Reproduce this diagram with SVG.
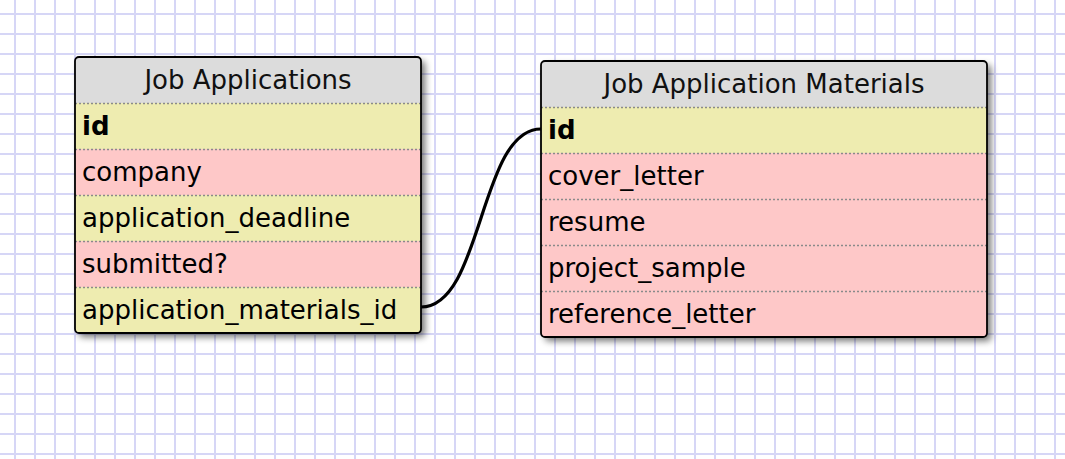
<svg xmlns="http://www.w3.org/2000/svg" width="1065" height="459" viewBox="0 0 1065 459">
<style>
.hdr{fill:#dcdcdc}
.key{fill:#eeecb0}
.txt{fill:#fec8c8}
.sep{stroke:#8a8a8a;stroke-width:1.6;stroke-dasharray:2,2}
.border{fill:none;stroke:#000;stroke-width:1.8}
.title{font-family:"DejaVu Sans",Verdana,sans-serif;font-size:26px;fill:#111;text-anchor:middle}
.field{font-family:"DejaVu Sans",Verdana,sans-serif;font-size:26px;fill:#000}
.pk{font-weight:bold}
.shadow{fill:#000;opacity:0.55;filter:url(#blur)}
.link{fill:none;stroke:#000;stroke-width:3.2}
</style>
<defs>
<pattern id="grid" x="5" y="4" width="20" height="20" patternUnits="userSpaceOnUse">
<path d="M10,0 V20 M0,10 H20" stroke="#d6d6f6" stroke-width="2" fill="none"/>
</pattern>
<filter id="blur" x="-10%" y="-10%" width="130%" height="130%"><feGaussianBlur stdDeviation="3.5"/></filter>
<clipPath id="c1"><rect x="75" y="57" width="346" height="276" rx="4"/></clipPath>
<clipPath id="c2"><rect x="541" y="61" width="446" height="276" rx="4"/></clipPath>
</defs>
<rect width="1065" height="459" fill="#fff"/>
<rect width="1065" height="459" fill="url(#grid)"/>

<g id="job_applications">
<rect class="shadow" x="79" y="61" width="346" height="276" rx="4"/>
<g clip-path="url(#c1)">
<rect class="hdr" x="75" y="57" width="346" height="46"/>
<rect class="key" x="75" y="103" width="346" height="46"/>
<rect class="txt" x="75" y="149" width="346" height="46"/>
<rect class="key" x="75" y="195" width="346" height="46"/>
<rect class="txt" x="75" y="241" width="346" height="46"/>
<rect class="key" x="75" y="287" width="346" height="46"/>
</g>
<path class="sep" d="M75,103.5 H421 M75,149.5 H421 M75,195.5 H421 M75,241.5 H421 M75,287.5 H421"/>
<rect class="border" x="75" y="57" width="346" height="276" rx="4"/>
<text class="title" x="248" y="89">Job Applications</text>
<text class="field pk" x="82" y="135">id</text>
<text class="field" x="82" y="181">company</text>
<text class="field" x="82" y="227">application_deadline</text>
<text class="field" x="82" y="273">submitted?</text>
<text class="field" x="82" y="319">application_materials_id</text>
</g>

<g id="job_application_materials">
<rect class="shadow" x="545" y="65" width="446" height="276" rx="4"/>
<g clip-path="url(#c2)">
<rect class="hdr" x="541" y="61" width="446" height="46"/>
<rect class="key" x="541" y="107" width="446" height="46"/>
<rect class="txt" x="541" y="153" width="446" height="184"/>
</g>
<path class="sep" d="M541,107.5 H987 M541,153.5 H987 M541,199.5 H987 M541,245.5 H987 M541,291.5 H987"/>
<rect class="border" x="541" y="61" width="446" height="276" rx="4"/>
<text class="title" x="764" y="93">Job Application Materials</text>
<text class="field pk" x="548" y="139">id</text>
<text class="field" x="548" y="185">cover_letter</text>
<text class="field" x="548" y="231">resume</text>
<text class="field" x="548" y="277">project_sample</text>
<text class="field" x="548" y="323">reference_letter</text>
</g>

<g id="connectors">
<path class="link" d="M421,307 C483,307 479,129 541,129"/>
</g>
</svg>
